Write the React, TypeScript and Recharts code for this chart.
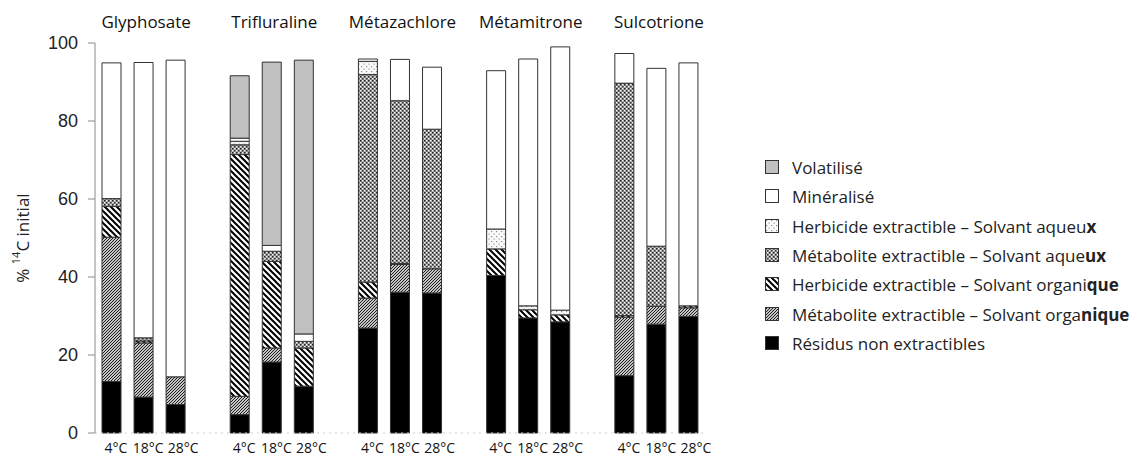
import { BarChart, Bar, XAxis, YAxis } from 'recharts';

// herbicides et températures
const herbicides = ['Glyphosate', 'Trifluraline', 'Métazachlore', 'Métamitrone', 'Sulcotrione'];
const temperatures = ['4°C', '18°C', '28°C'];

// % 14C initial, ordre : G4, G18, G28, T4, T18, T28, Mz4 ... S28
const residus = [13.2, 9.2, 7.3, 4.7, 18.2, 12.0, 26.9, 36.1, 35.9, 40.4, 29.5, 28.5, 14.7, 27.9, 29.9];
const metaboliteOrg = [37.0, 13.9, 7.1, 4.7, 3.6, 0, 7.7, 7.1, 6.2, 0, 0, 0, 15.0, 4.6, 2.2];
const herbicideOrg = [7.9, 0.5, 0, 62.0, 22.2, 9.8, 4.1, 0.3, 0, 6.8, 2.1, 1.8, 0.4, 0, 0.5];
const metaboliteAq = [2.0, 0.8, 0, 2.5, 2.6, 1.7, 53.2, 41.7, 35.8, 0, 0, 0, 59.6, 15.4, 0];
const herbicideAq = [0, 0, 0, 0.9, 0, 0, 3.4, 0, 0, 5.1, 1.0, 1.2, 0, 0, 0];
const mineralise = [34.8, 70.6, 81.2, 0.8, 1.5, 1.9, 0.6, 10.6, 15.9, 40.6, 63.3, 67.5, 7.6, 45.6, 62.3];
const volatilise = [0, 0, 0, 16.0, 47.0, 70.2, 0, 0, 0, 0, 0, 0, 0, 0, 0];

const yTicks = [0, 20, 40, 60, 80, 100];

// séries du bas vers le haut
const SERIES = [
  { key: 'res', values: residus, fill: '#000000', label: ['Résidus non extractibles', ''] },
  { key: 'metOrg', values: metaboliteOrg, fill: 'url(#pMetOrg)', label: ['Métabolite extractible – Solvant orga', 'nique'] },
  { key: 'herbOrg', values: herbicideOrg, fill: 'url(#pHerbOrg)', label: ['Herbicide extractible – Solvant organi', 'que'] },
  { key: 'metAq', values: metaboliteAq, fill: 'url(#pMetAq)', label: ['Métabolite extractible – Solvant aque', 'ux'] },
  { key: 'herbAq', values: herbicideAq, fill: 'url(#pHerbAq)', label: ['Herbicide extractible – Solvant aqueu', 'x'] },
  { key: 'min', values: mineralise, fill: '#ffffff', label: ['Minéralisé', ''] },
  { key: 'vol', values: volatilise, fill: '#c0c0c0', label: ['Volatilisé', ''] },
];

// 3 barres par herbicide + un emplacement vide entre les groupes
const data: any[] = [];
herbicides.forEach((h, g) => {
  temperatures.forEach((t, i) => {
    const row: any = { slot: data.length, temp: t, idx: i, group: i === 1 ? h : '' };
    SERIES.forEach(s => { row[s.key] = s.values[g * 3 + i]; });
    data.push(row);
  });
  if (g < herbicides.length - 1) data.push({ slot: data.length, temp: '', idx: -1, group: '' });
});

const tickFont = 'Liberation Sans, Arial, sans-serif';
const textFont = '"Open Sans", Lato, sans-serif';

// petit décalage des étiquettes comme dans l'original
const TEMP_SHIFT = [5, 5, 8];

const TempTick = ({ x, y, payload }: any) => {
  const row = data[payload.value];
  if (!row || row.idx < 0) return null;
  return (
    <text x={x + TEMP_SHIFT[row.idx]} y={y + 12} textAnchor="middle" fontFamily={textFont} fontSize={14} fill="#111">
      {row.temp}
    </text>
  );
};

function Patterns() {
  return (
    <defs>
      <pattern id="pMetOrg" width="3" height="3" patternUnits="userSpaceOnUse">
        <rect width="3" height="3" fill="#c4c4c4" />
        <path d="M0,3 L3,0 M-1,1 L1,-1 M2,4 L4,2" stroke="#1e1e1e" strokeWidth="1" />
      </pattern>
      <pattern id="pHerbOrg" width="6" height="6" patternUnits="userSpaceOnUse">
        <rect width="6" height="6" fill="#fff" />
        <path d="M0,0 L6,6 M-3,3 L3,9 M3,-3 L9,3" stroke="#000" strokeWidth="2" />
      </pattern>
      <pattern id="pMetAq" width="4" height="4" patternUnits="userSpaceOnUse">
        <rect width="4" height="4" fill="#a8a8a8" />
        <rect x="0" y="0" width="1.5" height="1.5" fill="#222" />
        <rect x="2" y="2" width="1.5" height="1.5" fill="#333" />
        <rect x="2" y="0" width="1.2" height="1.2" fill="#f4f4f4" />
        <rect x="0" y="2" width="1.2" height="1.2" fill="#f4f4f4" />
      </pattern>
      <pattern id="pHerbAq" width="5" height="5" patternUnits="userSpaceOnUse">
        <rect width="5" height="5" fill="#fafafa" />
        <rect x="1" y="1" width="1.2" height="1.2" fill="#8a8a8a" />
        <rect x="3.5" y="3.5" width="1.2" height="1.2" fill="#9a9a9a" />
      </pattern>
    </defs>
  );
}

const YLabel = ({ viewBox }: any) => {
  const x = viewBox.x + 22;
  const y = viewBox.y + viewBox.height / 2;
  return (
    <text x={x} y={y} transform={`rotate(-90, ${x}, ${y})`} textAnchor="middle" dominantBaseline="central"
      fontFamily={textFont} fontSize={17} style={{ fill: '#222' }}>
      % <tspan fontSize={11} dy={-7}>14</tspan><tspan dy={7}>C initial</tspan>
    </text>
  );
};

export default function App() {
  const legendRows = [...SERIES].reverse();
  return (
    <div style={{ position: 'absolute', left: 0, top: 0, width: 1143, height: 457, background: '#fff' }}>
      <BarChart width={1143} height={457} data={data} margin={{ top: 13, right: 439, bottom: 0, left: 0 }}
        barSize={19}>
        <Patterns />
        <XAxis xAxisId="top" orientation="top" dataKey="slot" height={30} interval={0}
          tickFormatter={(v: number) => data[v]?.group ?? ''} axisLine={false} tickLine={false}
          tickMargin={9} dx={3} tick={{ fontFamily: textFont, fontSize: 17, fill: '#111' }} />
        <XAxis xAxisId="bottom" dataKey="slot" height={24} interval={0}
          axisLine={{ stroke: '#cfcfcf', strokeDasharray: '2 4' }} tickLine={false}
          tick={<TempTick />} />
        <YAxis width={95} domain={[0, 100]} ticks={yTicks} tickSize={7} tickMargin={10}
          axisLine={{ stroke: '#8a8a8a' }} tickLine={{ stroke: '#8a8a8a' }}
          tick={{ fontFamily: tickFont, fontSize: 18, fill: '#222' }}
          label={<YLabel />} />
        {SERIES.map(s => (
          <Bar key={s.key} xAxisId="bottom" dataKey={s.key} stackId="a" fill={s.fill}
            stroke="#333" strokeWidth={1} isAnimationActive={false} />
        ))}
      </BarChart>
      <div style={{ position: 'absolute', left: 765, top: 153, fontFamily: textFont, fontSize: 17, color: '#222' }}>
        {legendRows.map(s => (
          <div key={s.key} style={{ height: 29.3, display: 'flex', alignItems: 'center', whiteSpace: 'nowrap' }}>
            <svg width={15} height={15} style={{ marginRight: 12, flex: 'none' }}>
              <rect x={0.5} y={0.5} width={13} height={13} fill={s.fill} stroke="#333" strokeWidth={1} />
            </svg>
            <span>{s.label[0]}<b>{s.label[1]}</b></span>
          </div>
        ))}
      </div>
    </div>
  );
}
